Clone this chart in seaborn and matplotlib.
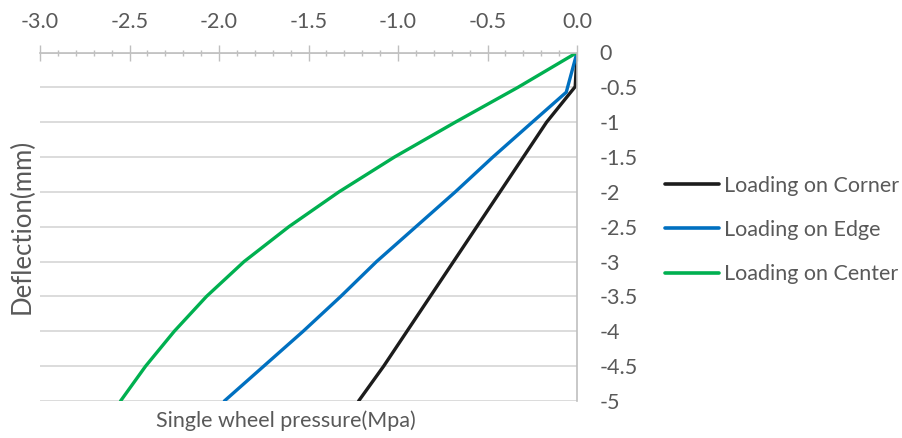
import matplotlib
matplotlib.use("Agg")
import matplotlib.pyplot as plt
from matplotlib.ticker import MultipleLocator, FormatStrFormatter, FuncFormatter
import seaborn as sns
import pandas as pd

# Single wheel pressure (MPa) vs slab deflection (mm) for three loading positions
corner_pressure = [0, -0.01, -0.17, -0.30, -0.43, -0.56, -0.69, -0.82, -0.95, -1.08, -1.22]
corner_deflection = [0, -0.49, -1.0, -1.5, -2.0, -2.5, -3.0, -3.5, -4.0, -4.5, -5.0]

edge_pressure = [0, -0.06, -0.25, -0.47, -0.68, -0.90, -1.12, -1.32, -1.53, -1.75, -1.97]
edge_deflection = [0, -0.57, -1.0, -1.5, -2.0, -2.5, -3.0, -3.5, -4.0, -4.5, -5.0]

center_pressure = [0, -0.33, -0.68, -1.02, -1.33, -1.61, -1.86, -2.07, -2.25, -2.41, -2.55]
center_deflection = [0, -0.5, -1.0, -1.5, -2.0, -2.5, -3.0, -3.5, -4.0, -4.5, -5.0]

series_names = ["Loading on Corner", "Loading on Edge", "Loading on Center"]
series_colors = ["#1c1c1c", "#0070C0", "#00B050"]

frames = []
for name, xs, ys in zip(series_names,
                        [corner_pressure, edge_pressure, center_pressure],
                        [corner_deflection, edge_deflection, center_deflection]):
    frames.append(pd.DataFrame({"pressure": xs, "deflection": ys, "series": name}))
df = pd.concat(frames, ignore_index=True)

sns.set_theme(style="white")
plt.rcParams["font.family"] = ["Lato", "DejaVu Sans"]

text_color = "#595959"
axis_color = "#BFBFBF"
grid_color = "#D9D9D9"
font_size = 15.5

fig = plt.figure(figsize=(9.03, 4.38), dpi=100)
ax = fig.add_axes([40 / 903, 1 - 401 / 438, 537 / 903, 348.5 / 438])

sns.lineplot(data=df, x="pressure", y="deflection", hue="series",
             hue_order=series_names, palette=series_colors,
             sort=False, estimator=None, linewidth=2.4, ax=ax)
for line in ax.get_lines():
    line.set_solid_joinstyle("round")
    line.set_solid_capstyle("round")

ax.set_xlim(-3.0, 0.0)
ax.set_ylim(-5.0, 0.0)

# pressure axis across the top
ax.xaxis.tick_top()
ax.xaxis.set_major_locator(MultipleLocator(0.5))
ax.xaxis.set_minor_locator(MultipleLocator(0.1))
ax.xaxis.set_major_formatter(FormatStrFormatter("%.1f"))
ax.tick_params(axis="x", which="major", direction="inout", length=11, width=1,
               color=axis_color, labelcolor=text_color, labelsize=font_size, pad=9,
               top=True, bottom=False)
ax.tick_params(axis="x", which="minor", direction="inout", length=5, width=1,
               color=axis_color, top=True, bottom=False)

# deflection axis on the right
ax.yaxis.tick_right()
ax.yaxis.set_major_locator(MultipleLocator(0.5))
ax.yaxis.set_major_formatter(FuncFormatter(lambda v, p: f"{v:g}" if abs(v) > 1e-9 else "0"))
ax.tick_params(axis="y", which="both", length=0, labelcolor=text_color,
               labelsize=font_size, pad=16, left=False, right=True)

ax.grid(axis="y", color=grid_color, linewidth=1.3)
ax.grid(axis="x", visible=False)
for side in ["left", "bottom"]:
    ax.spines[side].set_visible(False)
for side in ["top", "right"]:
    ax.spines[side].set_visible(True)
    ax.spines[side].set_color(axis_color)
    ax.spines[side].set_linewidth(1.2)
ax.set_axisbelow(True)

ax.set_xlabel("")
ax.set_ylabel("")
fig.text(286 / 903, 1 - 421 / 438, "Single wheel pressure(Mpa)", ha="center", va="center",
         fontsize=font_size, color=text_color)
fig.text(22 / 903, 1 - 226 / 438, "Deflection(mm)", ha="center", va="center",
         rotation=90, fontsize=18.5, color=text_color)

leg = ax.legend(loc="center left", bbox_to_anchor=(665 / 903, 1 - 230 / 438),
                bbox_transform=fig.transFigure, frameon=False, fontsize=font_size,
                handlelength=2.5, handletextpad=0.23, labelspacing=1.13,
                borderaxespad=0, borderpad=0)
for t in leg.get_texts():
    t.set_color(text_color)
for h in leg.get_lines():
    h.set_linewidth(2.6)

fig.savefig("out.png", dpi=100)
